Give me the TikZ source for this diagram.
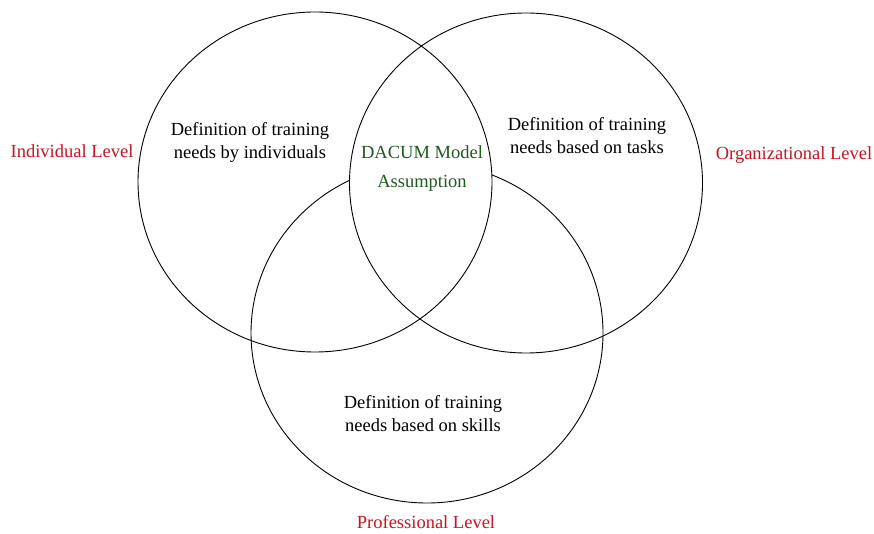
\documentclass[tikz,border=0pt]{standalone}
\usepackage{fontspec}
\setmainfont{Liberation Serif}
\definecolor{lvlred}{RGB}{200,20,30}
\definecolor{dgreen}{RGB}{30,90,30}
\begin{document}
\begin{tikzpicture}[x=1pt,y=-1pt,
  ring/.style={draw=black,line width=0.9pt},
  txt/.style={font=\fontsize{18.5}{23}\selectfont,align=center,inner sep=0pt},
  lvl/.style={txt,text=lvlred},
  core/.style={txt,text=dgreen}]
\useasboundingbox (0,0) rectangle (874,534);
% bottom circle first, then mask the central lens
\draw[ring] (427,333) ellipse [x radius=176,y radius=170];
\begin{scope}
  \clip (315,182) ellipse [x radius=177,y radius=170];
  \fill[white] (526,183) ellipse [x radius=176.5,y radius=170];
\end{scope}
\draw[ring] (315,182) ellipse [x radius=177,y radius=170];
\draw[ring] (526,183) ellipse [x radius=176.5,y radius=170];
% texts
\node[txt] (ind) at (250,142) {Definition of training\\needs by individuals};
\node[txt] (task) at (587,136) {Definition of training\\needs based on tasks};
\node[txt] (skill) at (423,414) {Definition of training\\needs based on skills};
\node[core] (dacum) at (422,152) {DACUM Model};
\node[core] (assum) at (422,183) {Assumption};
\node[lvl] (il) at (72,151) {Individual Level};
\node[lvl] (ol) at (794,155) {Organizational Level};
\node[lvl] (pl) at (426,522) {Professional Level};
\end{tikzpicture}
\end{document}
